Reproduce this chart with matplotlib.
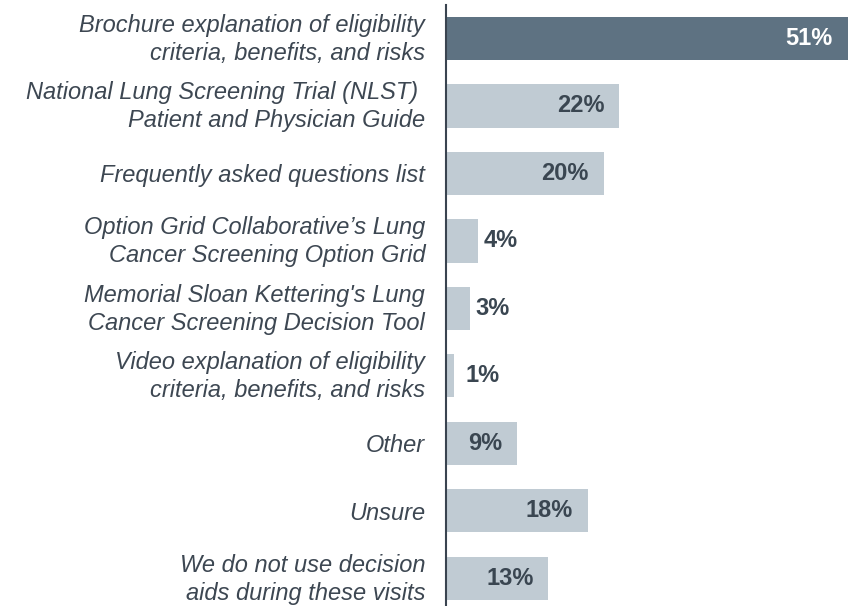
import matplotlib.pyplot as plt
import matplotlib.transforms as mtransforms
import numpy as np

# 데이터
labels = [
    'Brochure explanation of eligibility\ncriteria, benefits, and risks',
    'National Lung Screening Trial (NLST) \nPatient and Physician Guide',
    'Frequently asked questions list',
    'Option Grid Collaborative\u2019s Lung\nCancer Screening Option Grid',
    "Memorial Sloan Kettering's Lung\nCancer Screening Decision Tool",
    'Video explanation of eligibility\ncriteria, benefits, and risks',
    'Other',
    'Unsure',
    'We do not use decision\naids during these visits',
]
values = [51, 22, 20, 4, 3, 1, 9, 18, 13]

dark = '#5e7282'
light = '#c0cbd3'
text_col = '#3a4651'

plt.rcParams['font.family'] = ['Liberation Sans', 'DejaVu Sans']

fig = plt.figure(figsize=(8.5, 6.06), dpi=100)
ax = fig.add_axes([446 / 850, 0, 404 / 850, 1 - 5 / 606])

y = np.arange(len(values))
colors = [dark] + [light] * (len(values) - 1)
ax.barh(y, values, height=0.64, color=colors)

ax.set_xlim(0, 51.3)
ax.set_ylim(8.41, -0.496)

px = 404 / 51.3  # 1% 당 픽셀
for i, v in enumerate(values):
    if v >= 5:
        x = v - 15 / px
        ha = 'right'
    else:
        x = max(v + 6 / px, 20 / px)
        ha = 'left'
    c = 'white' if i == 0 else text_col
    ax.text(x, i, f'{v}%', ha=ha, va='center', fontsize=17,
            fontweight='bold', color=c)

ax.set_yticks(y)
ax.set_yticklabels(labels, fontsize=17, style='italic', color='#3d4752',
                   linespacing=1.27)
ax.tick_params(axis='y', length=0, pad=15)
# 두 줄 라벨만 조금 위로 이동
shift = mtransforms.ScaledTranslation(0, 4 / 100, fig.dpi_scale_trans)
for lab, txt in zip(ax.get_yticklabels(), labels):
    if '\n' in txt:
        lab.set_transform(lab.get_transform() + shift)
ax.set_xticks([])
for s in ['top', 'right', 'bottom']:
    ax.spines[s].set_visible(False)
ax.spines['left'].set_color('#3a4450')
ax.spines['left'].set_linewidth(1.5)

plt.savefig('out.png', dpi=100)
